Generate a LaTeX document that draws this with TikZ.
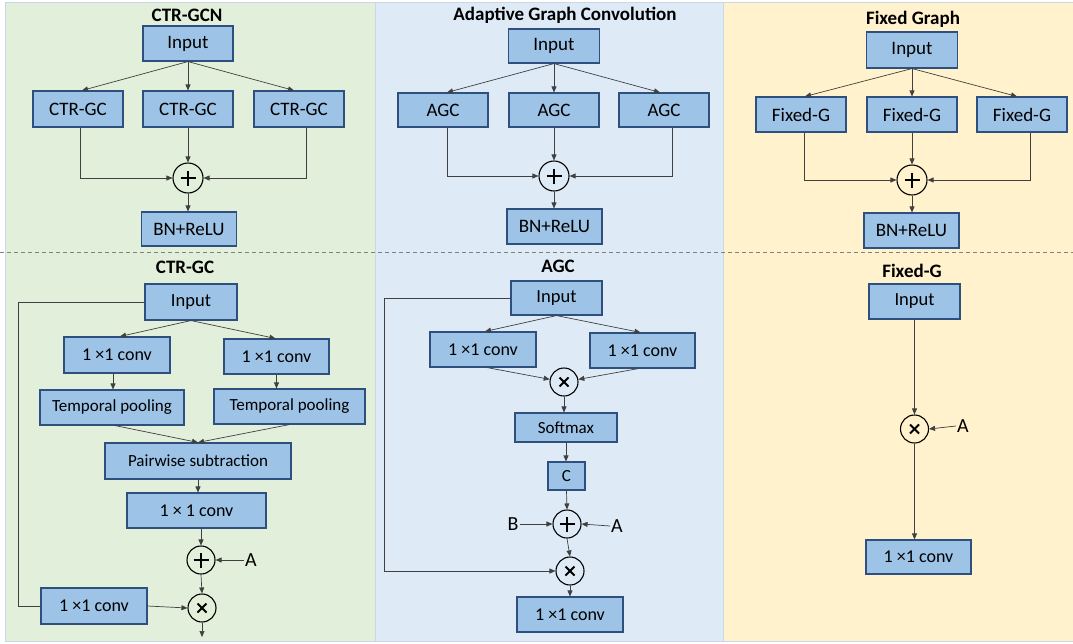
\documentclass[tikz,border=0pt]{standalone}
\usepackage{fontspec}
\setmainfont{Carlito}
\usetikzlibrary{arrows.meta}
\definecolor{pgreen}{HTML}{E2EFDA}
\definecolor{pblue}{HTML}{DEEBF7}
\definecolor{pyellow}{HTML}{FFF2CC}
\definecolor{pborder}{HTML}{C8D8E6}
\definecolor{boxfill}{HTML}{9DC3E6}
\definecolor{boxline}{HTML}{2F4F7F}
\definecolor{connc}{HTML}{404040}
\tikzset{
  blk/.style={draw=boxline, fill=boxfill, line width=1.1pt, inner sep=0pt, font=\fontsize{17}{20}\selectfont},
  bigblk/.style={blk, font=\fontsize{19}{22}\selectfont},
  convblk/.style={blk, font=\fontsize{18}{20}\selectfont},
  ttl/.style={font=\bfseries\fontsize{19}{22}\selectfont},
  lbl/.style={font=\fontsize{20}{22}\selectfont, inner sep=1pt},
  conn/.style={draw=connc, line width=0.7pt},
  arr/.style={conn, -{Triangle[length=6pt,width=5pt]}},
  opplus/.style={circle, draw=black, line width=1.1pt, inner sep=0pt, minimum size=#1,
    path picture={
      \draw[line width=1.8pt] ([xshift=-7.5pt]path picture bounding box.center) -- ([xshift=7.5pt]path picture bounding box.center);
      \draw[line width=1.8pt] ([yshift=-7.5pt]path picture bounding box.center) -- ([yshift=7.5pt]path picture bounding box.center);}},
  optimes/.style={circle, draw=black, line width=1.1pt, inner sep=0pt, minimum size=#1,
    path picture={
      \draw[line width=1.8pt] ([xshift=-4.5pt,yshift=-4.5pt]path picture bounding box.center) -- ([xshift=4.5pt,yshift=4.5pt]path picture bounding box.center);
      \draw[line width=1.8pt] ([xshift=-4.5pt,yshift=4.5pt]path picture bounding box.center) -- ([xshift=4.5pt,yshift=-4.5pt]path picture bounding box.center);}}
}
\begin{document}
\begin{tikzpicture}[x=1pt,y=-1pt]
\useasboundingbox (0,0) rectangle (1073,643);
% panels
\fill[pgreen] (5,2) rectangle (375,641);
\fill[pblue] (375,2) rectangle (723,641);
\fill[pyellow] (723,2) rectangle (1073,641);
\draw[pborder, line width=0.8pt] (5,2) rectangle (375,641);
\draw[pborder, line width=0.8pt] (375,2) rectangle (723,641);
\draw[pborder, line width=0.8pt] (723,2) rectangle (1073,641);
\draw[gray, line width=0.8pt, dash pattern=on 4pt off 3pt] (0,252) -- (1073,252);

% ===== top green: CTR-GCN
\node[ttl] (t1) at (187,15) {CTR-GCN};
\node[bigblk, minimum width=90pt, minimum height=35pt] (in1) at (188,43.5) {Input};
\node[bigblk, minimum width=90pt, minimum height=36pt] (g1) at (78,109) {CTR-GC};
\node[bigblk, minimum width=90pt, minimum height=36pt] (g2) at (188,109) {CTR-GC};
\node[bigblk, minimum width=90pt, minimum height=36pt] (g3) at (299,109) {CTR-GC};
\node[opplus=30pt] (p1) at (188,178) {};
\node[bigblk, minimum width=95pt, minimum height=34pt] (bn1) at (189,229) {BN+ReLU};
\draw[arr] (in1.south) -- ([xshift=4pt]g1.north);
\draw[arr] (in1.south) -- (g2.north);
\draw[arr] (in1.south) -- ([xshift=-5pt]g3.north);
\draw[arr] ([xshift=2pt]g1.south) |- (p1.west);
\draw[arr] (g2.south) -- (p1.north);
\draw[arr] ([xshift=7pt]g3.south) |- (p1.east);
\draw[arr] (p1.south) -- (p1.south |- bn1.north);

% ===== top blue: Adaptive Graph Convolution
\node[ttl] (t2) at (565,15) {Adaptive Graph Convolution};
\node[bigblk, minimum width=91pt, minimum height=34pt] (in2) at (554,46) {Input};
\node[bigblk, minimum width=90pt, minimum height=34pt] (a1) at (443,110) {AGC};
\node[bigblk, minimum width=90pt, minimum height=34pt] (a2) at (554,110) {AGC};
\node[bigblk, minimum width=90pt, minimum height=34pt] (a3) at (664,110) {AGC};
\node[opplus=30pt] (p2) at (554,176) {};
\node[bigblk, minimum width=95pt, minimum height=35pt] (bn2) at (554.5,226.5) {BN+ReLU};
\draw[arr] (in2.south) -- ([xshift=4pt]a1.north);
\draw[arr] (in2.south) -- (a2.north);
\draw[arr] (in2.south) -- ([xshift=-4pt]a3.north);
\draw[arr] ([xshift=4pt]a1.south) |- (p2.west);
\draw[arr] (a2.south) -- (p2.north);
\draw[arr] ([xshift=8pt]a3.south) |- (p2.east);
\draw[arr] (p2.south) -- (p2.south |- bn2.north);

% ===== top yellow: Fixed Graph
\node[ttl] (t3) at (913,19) {Fixed Graph};
\node[bigblk, minimum width=91pt, minimum height=36pt] (in3) at (912,50) {Input};
\node[bigblk, minimum width=90pt, minimum height=35pt] (f1) at (801,114.5) {Fixed-G};
\node[bigblk, minimum width=90pt, minimum height=35pt] (f2) at (912,114.5) {Fixed-G};
\node[bigblk, minimum width=90pt, minimum height=35pt] (f3) at (1022,114.5) {Fixed-G};
\node[opplus=30pt] (p3) at (912,180) {};
\node[bigblk, minimum width=95pt, minimum height=35pt] (bn3) at (911.5,230.5) {BN+ReLU};
\draw[arr] (in3.south) -- ([xshift=4pt]f1.north);
\draw[arr] (in3.south) -- (f2.north);
\draw[arr] (in3.south) -- ([xshift=-5pt]f3.north);
\draw[arr] ([xshift=3pt]f1.south) |- (p3.west);
\draw[arr] (f2.south) -- (p3.north);
\draw[arr] ([xshift=8pt]f3.south) |- (p3.east);
\draw[arr] (p3.south) -- (p3.south |- bn3.north);

% ===== bottom green: CTR-GC
\node[ttl] (t4) at (185,267) {CTR-GC};
\node[blk, font=\fontsize{18.5}{20}\selectfont, minimum width=92pt, minimum height=36pt] (in4) at (191,302) {Input};
\node[convblk, minimum width=106pt, minimum height=36pt] (c1) at (117,355) {1 ×1 conv};
\node[convblk, minimum width=105pt, minimum height=35pt] (c2) at (276.5,356.5) {1 ×1 conv};
\node[blk, minimum width=144pt, minimum height=35pt] (tp1) at (112,407.5) {Temporal pooling};
\node[blk, minimum width=151pt, minimum height=35pt] (tp2) at (289.5,406.5) {Temporal pooling};
\node[blk, minimum width=186pt, minimum height=36pt] (ps) at (198,461) {Pairwise subtraction};
\node[convblk, minimum width=139pt, minimum height=35pt] (cv) at (196.5,510.5) {1 × 1 conv};
\node[opplus=28pt] (pl4) at (201,560) {};
\node[optimes=28pt] (x4) at (202,608) {};
\node[convblk, minimum width=106pt, minimum height=36pt] (cb) at (94,606) {1 ×1 conv};
\node[lbl] (A4) at (251,560) {A};
\coordinate (out4) at (202,637);
\draw[arr] (in4.south) -- ([xshift=3pt]c1.north);
\draw[arr] (in4.south) -- ([xshift=-1pt]c2.north);
\draw[arr] ([xshift=-4pt]c1.south) -- ([xshift=-4pt]c1.south |- tp1.north);
\draw[arr] (c2.south) -- (c2.south |- tp2.north);
\draw[arr] ([xshift=3pt]tp1.south) -- (ps.north);
\draw[arr] (tp2.south) -- (ps.north);
\draw[arr] (ps.south) -- (ps.south |- cv.north);
\draw[arr] (pl4.north |- cv.south) -- (pl4.north);
\draw[arr] (A4.west) -- (pl4.east);
\draw[arr] (pl4.south) -- (x4.north);
\draw[arr] (cb.east) -- (x4.west);
\draw[conn] (in4.west) -- ++(-126,0) |- (cb.west);
\draw[arr] (x4.south) -- (out4);

% ===== bottom blue: AGC
\node[ttl] (t5) at (558,266) {AGC};
\node[blk, font=\fontsize{18.5}{20}\selectfont, minimum width=91pt, minimum height=34pt] (in5) at (556.5,298) {Input};
\node[convblk, minimum width=106pt, minimum height=35pt] (d1) at (483,349.5) {1 ×1 conv};
\node[convblk, minimum width=105pt, minimum height=35pt] (d2) at (642.5,350.5) {1 ×1 conv};
\node[optimes=28pt] (m5) at (564,382) {};
\node[blk, minimum width=102pt, minimum height=29pt] (sm) at (566,427.5) {Softmax};
\node[blk, minimum width=37pt, minimum height=28pt] (cc) at (566.5,476) {C};
\node[opplus=28pt] (pl5) at (567,524) {};
\node[optimes=28pt] (x5) at (570,571) {};
\node[convblk, minimum width=106pt, minimum height=35pt] (co5) at (570,614.5) {1 ×1 conv};
\node[lbl] (B5) at (513,524) {B};
\node[lbl] (A5) at (617,526) {A};
\draw[arr] (in5.south) -- ([xshift=2pt]d1.north);
\draw[arr] (in5.south) -- ([xshift=-2pt]d2.north);
\draw[arr] ([xshift=4pt]d1.south) -- (m5);
\draw[arr] ([xshift=-4pt]d2.south) -- (m5);
\draw[arr] (m5.south) -- (m5.south |- sm.north);
\draw[arr] (sm.south) -- (sm.south |- cc.north);
\draw[arr] (cc.south) -- (pl5.north);
\draw[arr] (B5.east) -- (pl5.west);
\draw[arr] (A5.west) -- (pl5.east);
\draw[arr] (pl5.south) -- (x5.north);
\draw[arr] (in5.west) -- ++(-126,0) |- (x5.west);
\draw[arr] (x5.south) -- (x5.south |- co5.north);

% ===== bottom yellow: Fixed-G
\node[ttl] (t6) at (912,271) {Fixed-G};
\node[blk, font=\fontsize{18.5}{20}\selectfont, minimum width=91pt, minimum height=35pt] (in6) at (914.5,301.5) {Input};
\node[optimes=28pt] (x6) at (914.5,429) {};
\node[convblk, minimum width=105pt, minimum height=34pt] (co6) at (918.5,557) {1 ×1 conv};
\node[lbl] (A6) at (963,426) {A};
\draw[arr] (in6.south) -- (x6.north);
\draw[arr] (A6.west) -- (x6.east);
\draw[arr] (x6.south) -- (x6.south |- co6.north);
\end{tikzpicture}
\end{document}
